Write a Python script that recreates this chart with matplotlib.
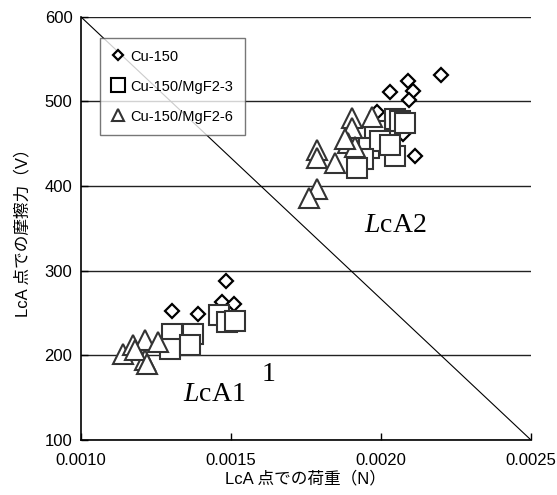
import matplotlib
matplotlib.use("Agg")
import matplotlib.pyplot as plt
from matplotlib.lines import Line2D

plt.rcParams['font.family'] = ['Liberation Sans', 'Noto Sans CJK JP', 'DejaVu Sans']
plt.rcParams['mathtext.fontset'] = 'custom'
plt.rcParams['mathtext.rm'] = 'Liberation Serif'
plt.rcParams['mathtext.it'] = 'Liberation Serif:italic'

# ---- data ----
cu150_x = [0.002201, 0.002090, 0.002029, 0.002107, 0.002095, 0.001987, 0.002075, 0.002114,
           0.001483, 0.001303, 0.001392, 0.001470, 0.001512]
cu150_y = [530.6, 523.5, 511, 511.8, 502, 488, 462, 436,
           288, 252, 249, 263.5, 260.8]

mg3_x = [0.002048, 0.002064, 0.002081, 0.001981, 0.001959, 0.001998, 0.001942, 0.001920,
         0.002048, 0.002031,
         0.001462, 0.001487, 0.001514, 0.001303, 0.001375, 0.001298, 0.001364]
mg3_y = [479, 477, 475, 465, 445, 453, 431.4, 421.6, 435.3, 449,
         248, 239, 241, 225.5, 225.5, 208, 212]

mg6_x = [0.001903, 0.001970, 0.001903, 0.001787, 0.001787, 0.001848, 0.001892, 0.001914,
         0.001881, 0.001787, 0.001759,
         0.001142, 0.001175, 0.001214, 0.001214, 0.001259, 0.001181, 0.001220]
mg6_y = [480.5, 482, 468.7, 443, 433.4, 427.5, 451, 446.4, 455, 396, 386,
         202, 211.8, 217.6, 194, 215.8, 206, 190]

series_labels = ['Cu-150', 'Cu-150/MgF2-3', 'Cu-150/MgF2-6']
xticks = [0.0010, 0.0015, 0.0020, 0.0025]
xtick_labels = ['0.0010', '0.0015', '0.0020', '0.0025']
yticks = [100, 200, 300, 400, 500, 600]
diag_x = [0.0010, 0.0025]
diag_y = [600, 100]

xlabel = 'LcA 点での荷重（N）'
ylabel = 'LcA 点での摩擦力（V）'

# ---- figure ----
fig = plt.figure(figsize=(5.57, 4.95), dpi=100)
ax = fig.add_axes([0.1449, 0.1111, 0.9533 - 0.1449, 0.9663 - 0.1111])
ax.set_xlim(0.0010, 0.0025)
ax.set_ylim(100, 600)

ax.set_yticks(yticks)
ax.yaxis.grid(True, color='#222222', lw=1.0)
ax.set_axisbelow(True)
for s in ['top', 'right']:
    ax.spines[s].set_visible(False)
ax.spines['left'].set_linewidth(1.2)
ax.spines['bottom'].set_linewidth(1.2)

ax.plot(diag_x, diag_y, color='black', lw=0.8, zorder=1)

ec = '#333333'
ax.plot(cu150_x, cu150_y, ls='none', marker='D', ms=7, mfc='white', mec='black', mew=1.6, zorder=3)
ax.plot(mg3_x, mg3_y, ls='none', marker='s', ms=14, mfc='white', mec=ec, mew=1.5, zorder=4)
ax.plot(mg6_x, mg6_y, ls='none', marker='^', ms=15, mfc='white', mec=ec, mew=1.5, zorder=5)

ax.set_xticks(xticks)
ax.set_xticklabels(xtick_labels)
ax.tick_params(axis='both', direction='in', length=5, width=1, labelsize=12)
ax.tick_params(axis='x', pad=9)
ax.tick_params(axis='y', pad=6)

ax.set_xlabel(xlabel, fontsize=12, labelpad=2)
ax.set_ylabel(ylabel, fontsize=12, labelpad=10)

handles = [
    Line2D([], [], ls='none', marker='D', ms=5, mfc='white', mec='black', mew=1.6),
    Line2D([], [], ls='none', marker='s', ms=9.5, mfc='white', mec='black', mew=1.5),
    Line2D([], [], ls='none', marker='^', ms=9, mfc='white', mec='#333333', mew=1.5),
]
leg = ax.legend(handles, series_labels, loc='upper left', bbox_to_anchor=(0.043, 0.950),
                frameon=True, fancybox=False, edgecolor='#555555', fontsize=10.5,
                handlelength=0.9, handletextpad=0.4, labelspacing=1.1,
                borderpad=0.8, borderaxespad=0.0)
leg.get_frame().set_linewidth(1.0)
leg.set_zorder(10)

ax.text(0.002048, 353.8, r'$\mathit{L}\mathrm{cA2}$', fontsize=20, ha='center', va='center', zorder=6)
ax.text(0.001444, 153.8, r'$\mathit{L}\mathrm{cA1}$', fontsize=20, ha='center', va='center', zorder=6)
ax.text(0.001625, 178.5, r'$\mathrm{1}$', fontsize=20, ha='center', va='center', zorder=6)

fig.savefig('out.png', dpi=100)
